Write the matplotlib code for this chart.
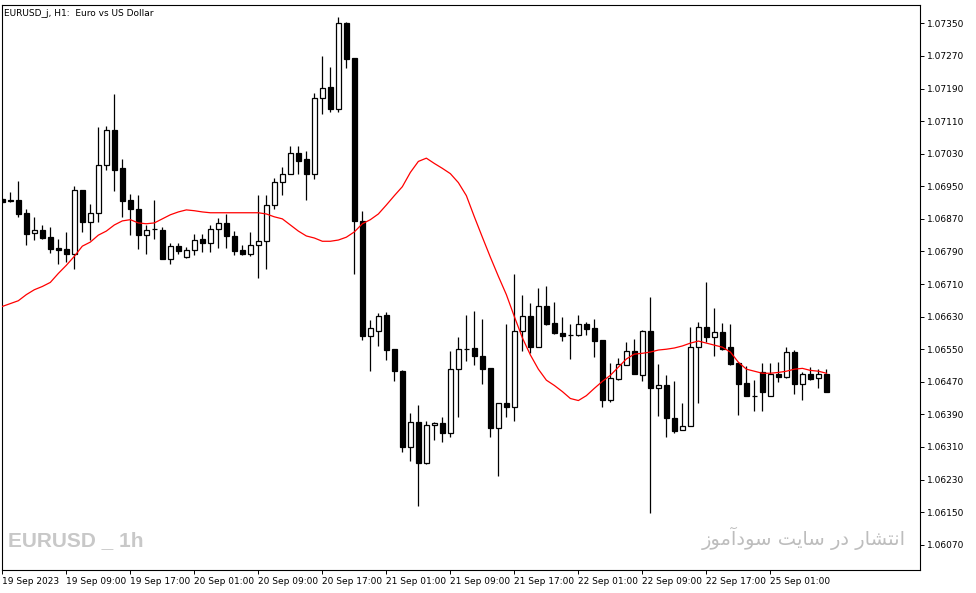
import matplotlib
matplotlib.use("Agg")
import matplotlib.pyplot as plt
import numpy as np

# prices in points (1e-5)
opens = [106919,106915,106917,106885,106835,106843,106825,106798,106796,106783,106942,106863,106885,107003,107088,106994,106917,106895,106830,106845,
         106843,106771,106803,106776,106793,106820,106810,106845,106860,106828,106793,106783,106805,106815,106904,106961,106981,107031,107016,106979,
         107167,107194,107140,107350,107266,106865,106583,106595,106635,106550,106496,106310,106372,106271,106365,106370,106345,106501,106550,106553,
         106533,106503,106357,106419,106407,106595,106632,106555,106657,106615,106590,106585,106585,106612,106602,106573,106426,106476,106511,106545,
         106486,106595,106456,106461,106382,106352,106362,106555,106605,106580,106592,106555,106516,106466,106434,106493,106434,106489,106481,106543,
         106464,106489,106479,106489]
highs = [106922,106937,106964,106895,106875,106855,106850,106820,106838,106951,106942,106907,107095,107098,107177,107016,106932,106929,106855,106917,
         106850,106810,106810,106800,106833,106833,106855,106872,106882,106840,106805,106838,106929,106929,106971,106998,107048,107048,107036,107179,
         107271,107244,107365,107353,107266,106890,106622,106639,106642,106550,106498,106394,106412,106375,106372,106384,106545,106580,106635,106644,
         106625,106503,106419,106612,106734,106684,106664,106701,106706,106667,106630,106612,106635,106617,106625,106573,106516,106528,106568,106575,
         106597,106677,106513,106486,106471,106419,106605,106617,106716,106652,106615,106612,106516,106508,106474,106516,106516,106518,106555,106548,
         106493,106506,106501,106501]
lows = [106910,106912,106875,106806,106818,106820,106786,106758,106763,106746,106838,106818,106863,106991,106939,106875,106830,106796,106783,106820,
        106771,106758,106783,106773,106781,106788,106788,106798,106798,106781,106781,106778,106726,106748,106894,106929,106981,106979,106917,106969,
        107127,107132,107132,107241,106734,106573,106496,106558,106523,106471,106298,106276,106164,106268,106327,106322,106335,106384,106521,106511,
        106464,106335,106238,106384,106375,106545,106540,106555,106610,106588,106570,106526,106583,106585,106531,106409,106421,106474,106511,106489,
        106471,106147,106387,106335,106345,106352,106362,106417,106568,106533,106548,106511,106389,106434,106399,106399,106434,106469,106479,106439,
        106426,106474,106454,106444]
closes = [106912,106915,106882,106833,106843,106823,106796,106793,106783,106942,106863,106885,107003,107088,106991,106915,106895,106830,106843,106845,
          106771,106803,106790,106793,106818,106810,106845,106860,106828,106790,106783,106805,106815,106904,106961,106981,107031,107013,106979,107167,
          107192,107140,107350,107263,106865,106583,106602,106632,106548,106496,106310,106372,106271,106365,106370,106345,106501,106550,106550,106533,
          106501,106357,106419,106407,106595,106632,106555,106657,106612,106590,106583,106585,106612,106600,106570,106426,106479,106513,106545,106489,
          106595,106456,106461,106382,106350,106362,106555,106605,106580,106592,106550,106513,106464,106434,106434,106446,106489,106481,106543,106464,
          106489,106476,106489,106446]
ma = [106655,106662,106669,106684,106696,106704,106714,106736,106756,106778,106803,106813,106830,106840,106855,106865,106868,106860,106858,106860,
      106870,106880,106887,106892,106890,106887,106885,106885,106885,106885,106885,106885,106885,106882,106875,106870,106855,106840,106828,106823,
      106815,106815,106818,106825,106838,106858,106868,106882,106904,106927,106949,106984,107011,107019,107006,106994,106981,106959,106927,106875,
      106825,106776,106729,106684,106630,106578,106536,106501,106474,106461,106446,106429,106424,106436,106454,106471,106486,106506,106526,106538,
      106540,106543,106548,106550,106553,106558,106565,106570,106565,106560,106555,106543,106518,106501,106496,106491,106491,106493,106496,106501,
      106503,106498,106496,106491]
xlabels = ["19 Sep 2023", "19 Sep 09:00", "19 Sep 17:00", "20 Sep 01:00", "20 Sep 09:00", "20 Sep 17:00",
           "21 Sep 01:00", "21 Sep 09:00", "21 Sep 17:00", "22 Sep 01:00", "22 Sep 09:00", "22 Sep 17:00", "25 Sep 01:00"]
yticks = [1.07350 - 0.0008 * k for k in range(17)]

o = np.array(opens) / 1e5; h = np.array(highs) / 1e5
l = np.array(lows) / 1e5; c = np.array(closes) / 1e5
m = np.array(ma) / 1e5
x = np.arange(len(o))

fig = plt.figure(figsize=(9.76, 5.93), dpi=100)
ax = fig.add_axes([2/976, 1 - 570/593, 918/976, 565/593])
ax.set_xlim(-0.04, 114.7)
ax.set_ylim(1.06008, 1.07395)

ax.vlines(x, l, h, color='black', linewidth=0.9, zorder=2)
up = c >= o
bot = np.minimum(o, c); ht = np.maximum(np.abs(c - o), 0.000008)
ax.bar(x[up], ht[up], bottom=bot[up], width=0.55, facecolor='white', edgecolor='black', linewidth=0.9, zorder=3)
ax.bar(x[~up], ht[~up], bottom=bot[~up], width=0.55, facecolor='black', edgecolor='black', linewidth=0.9, zorder=3)
ax.plot(x, m, color='red', linewidth=0.9, zorder=4)

ax.yaxis.tick_right()
ax.set_yticks(yticks)
ax.set_yticklabels([f"{v:.5f}" for v in yticks], fontsize=6.5)
ax.set_xticks(np.arange(0, 8 * len(xlabels), 8))
ax.set_xticklabels(xlabels, fontsize=6.5, ha='left')
ax.tick_params(axis='both', length=3, width=0.7, pad=2)
for s in ax.spines.values():
    s.set_linewidth(0.8)

ax.text(0.002, 0.993, "EURUSD_j, H1:  Euro vs US Dollar", transform=ax.transAxes, fontsize=6.5, va='top', ha='left')
ax.text(0.007, 0.035, "EURUSD _ 1h", transform=ax.transAxes, fontsize=15, fontweight='bold',
        color='#c8c8c8', va='bottom', ha='left', family=['Liberation Sans', 'DejaVu Sans'])
persian = ("\uFEAF\uFEEE\uFEE3\uFE81\uFEA9\uFEEE\uFEB3 \uFE96\uFBFE\uFE8E\uFEB3 \uFEAD\uFEA9 "
           "\uFEAD\uFE8E\uFEB8\uFE98\uFEE7\uFE8D")
ax.text(0.985, 0.035, persian, transform=ax.transAxes, fontsize=14, color='#bdbdbd',
        va='bottom', ha='right', family=['DejaVu Sans', 'Noto Sans'])

fig.savefig("out.png", dpi=100)
